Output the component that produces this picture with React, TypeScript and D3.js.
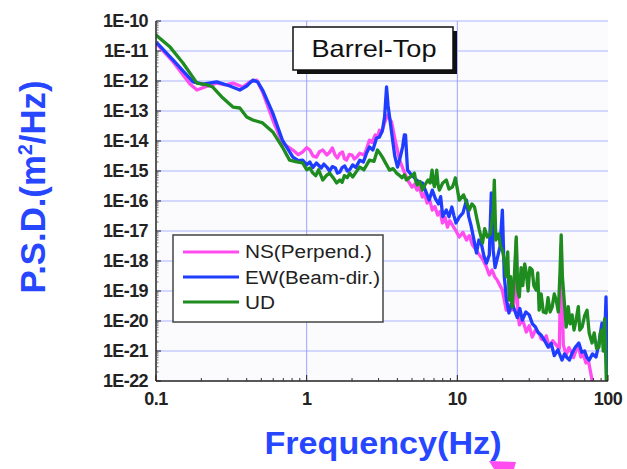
import React from "react";
import * as d3 from "d3";

// Frequency axis (Hz) and PSD axis (m^2/Hz) ticks
const xTickValues = [0.1, 1, 10, 100];
const xTickLabels = ["0.1", "1", "10", "100"];
const yTickValues = [1e-10, 1e-11, 1e-12, 1e-13, 1e-14, 1e-15, 1e-16, 1e-17, 1e-18, 1e-19, 1e-20, 1e-21, 1e-22];
const yTickLabels = ["1E-10", "1E-11", "1E-12", "1E-13", "1E-14", "1E-15", "1E-16", "1E-17", "1E-18", "1E-19", "1E-20", "1E-21", "1E-22"];

const seriesNames = ["NS(Perpend.)", "EW(Beam-dir.)", "UD"];
const seriesColors = ["#ff4cf0", "#1f3dff", "#1f8c1f"];

// NS (perpendicular) spectrum: [frequency Hz, PSD m^2/Hz]
const nsPoints: [number, number][] = [
  [0.1, 1.85e-11], [0.13, 4.3e-12], [0.168, 7.9e-13], [0.187, 5e-13], [0.211, 6.3e-13], [0.253, 8.5e-13],
  [0.29, 7.4e-13], [0.324, 8.5e-13], [0.377, 6.3e-13], [0.42, 9.3e-13], [0.466, 1.07e-12], [0.51, 4.3e-13],
  [0.596, 5e-14], [0.69, 8.5e-15], [0.81, 5e-15], [0.88, 3.5e-15], [0.94, 4.3e-15], [1.0, 6e-15],
  [1.05, 5e-15], [1.1, 3.2e-15], [1.16, 2.9e-15], [1.22, 4.5e-15], [1.28, 5e-15], [1.36, 3.4e-15],
  [1.42, 4.2e-15], [1.48, 5.9e-15], [1.54, 3.5e-15], [1.6, 2.7e-15], [1.66, 3.8e-15], [1.73, 4.3e-15],
  [1.78, 2.6e-15], [1.84, 2.3e-15], [1.92, 3.6e-15], [2.0, 3.4e-15], [2.07, 2.5e-15], [2.15, 2.9e-15],
  [2.25, 3.9e-15], [2.4, 3.4e-15], [2.5, 5.5e-15], [2.61, 1.07e-14], [2.72, 9e-15], [2.85, 1.6e-14],
  [2.95, 1.3e-14], [3.04, 2.3e-14], [3.15, 2e-14], [3.3, 4.3e-14], [3.46, 7.4e-14], [3.56, 5.5e-14],
  [3.66, 4.3e-14], [3.83, 1.35e-14], [4.0, 5e-15], [4.14, 2.3e-15], [4.35, 1.2e-15], [4.59, 6.3e-16],
  [4.8, 4e-16], [5.0, 2.9e-16], [5.2, 3.6e-16], [5.4, 2.3e-16], [5.6, 2.8e-16], [5.86, 1.35e-16],
  [6.05, 1.8e-16], [6.3, 8.5e-17], [6.55, 1.1e-16], [6.82, 5e-17], [7.1, 6.5e-17], [7.4, 3.4e-17],
  [7.7, 4.5e-17], [7.96, 1.85e-17], [8.3, 2.8e-17], [8.6, 1.35e-17], [8.9, 2.2e-17], [9.26, 1.6e-17],
  [9.7, 1.1e-17], [10.3, 6.3e-18], [10.9, 9e-18], [11.5, 5e-18], [12.0, 7e-18], [12.6, 3.4e-18],
  [13.2, 2.5e-18], [14.0, 1.6e-18], [14.8, 1.1e-18], [15.6, 6.3e-19], [16.3, 3.4e-19], [17.0, 5e-19],
  [17.7, 3e-19], [18.4, 2.3e-19], [19.1, 1.6e-19], [19.9, 1.07e-19], [20.5, 5e-20], [21.1, 2.3e-20],
  [22.0, 3.5e-20], [23.0, 2.3e-20], [23.8, 4e-20], [24.6, 5e-18], [25.2, 2e-20], [25.8, 7.4e-21],
  [27.0, 1.2e-20], [28.7, 4.3e-21], [30.0, 7e-21], [31.4, 2.9e-21], [33.0, 5e-21], [34.9, 4e-21],
  [36.0, 2.5e-21], [37.5, 2.3e-21], [39.0, 3.2e-21], [40.6, 1.35e-21], [43.0, 2.2e-21], [45.3, 1.6e-21],
  [47.5, 1.2e-21], [48.9, 3.4e-18], [50.5, 1.6e-21], [52.8, 7.4e-22], [55.0, 1.3e-21], [57.0, 9.3e-22],
  [59.0, 6e-22], [61.4, 1.07e-21], [64.0, 1.3e-21], [66.0, 6.3e-22], [68.5, 8e-22], [71.4, 4e-22],
  [74.0, 5e-22], [78.4, 1.07e-22], [85, 4e-23],
];

// EW (beam direction) spectrum
const ewPoints: [number, number][] = [
  [0.1, 2.0e-11], [0.13, 5e-12], [0.176, 9.3e-13], [0.205, 7.9e-13], [0.253, 9.3e-13], [0.309, 6.8e-13],
  [0.36, 5e-13], [0.4, 6.8e-13], [0.439, 1.07e-12], [0.473, 9.3e-13], [0.51, 5e-13], [0.596, 8.5e-14],
  [0.69, 1.07e-14], [0.81, 2.9e-15], [0.88, 2.2e-15], [0.94, 2.3e-15], [1.0, 1.6e-15], [1.05, 2e-15],
  [1.1, 1.3e-15], [1.16, 1.85e-15], [1.25, 1.26e-15], [1.3, 1.7e-15], [1.36, 1.35e-15], [1.42, 1.0e-15],
  [1.48, 1.4e-15], [1.55, 1.26e-15], [1.6, 8.5e-16], [1.66, 9.3e-16], [1.72, 1.3e-15], [1.79, 1.47e-15],
  [1.86, 1.0e-15], [1.93, 1.1e-15], [2.02, 1.6e-15], [2.12, 1.3e-15], [2.25, 2.3e-15], [2.38, 2.0e-15],
  [2.5, 4e-15], [2.61, 6.3e-15], [2.75, 5e-15], [2.91, 1.26e-14], [3.04, 1.35e-14], [3.18, 2.2e-14],
  [3.29, 6.3e-14], [3.39, 6.3e-13], [3.47, 1.5e-13], [3.55, 6.3e-14], [3.72, 1.07e-14], [3.85, 3e-15],
  [4.01, 1.35e-15], [4.15, 2.5e-15], [4.33, 6.3e-15], [4.45, 1.6e-14], [4.53, 1.6e-14], [4.67, 1.07e-15],
  [4.9, 8e-16], [5.19, 5.9e-16], [5.5, 4.5e-16], [5.86, 4e-16], [6.15, 2.2e-16], [6.5, 1.07e-16],
  [6.82, 2.3e-16], [7.15, 1.2e-16], [7.5, 8e-17], [7.75, 1.4e-16], [8.0, 3e-17], [8.45, 5e-17],
  [8.8, 3e-17], [9.2, 6.3e-17], [9.5, 3.2e-17], [9.8, 1.85e-17], [10.3, 2.9e-17], [10.9, 4e-17],
  [11.5, 1.07e-16], [11.9, 3e-17], [12.3, 1.6e-17], [12.8, 6e-18], [13.4, 1.85e-18], [13.9, 5e-18],
  [14.5, 3.4e-18], [15.0, 1.5e-18], [15.6, 8.5e-19], [16.3, 1.6e-18], [16.8, 1.85e-16], [17.3, 2.3e-18],
  [17.8, 6e-19], [18.4, 1.2e-18], [19.2, 3e-18], [19.9, 5e-17], [20.5, 3e-19], [21.2, 5e-20],
  [22.0, 1.85e-20], [23.0, 4e-20], [24.0, 2.3e-20], [25.0, 1.3e-20], [26.0, 2.6e-20], [27.0, 1.07e-20],
  [28.5, 2e-20], [30.0, 1.6e-20], [31.5, 8e-21], [33.0, 6.3e-21], [34.5, 4e-21], [36.0, 3.4e-21],
  [38.0, 2.2e-21], [40.0, 1.35e-21], [42.0, 1.8e-21], [44.0, 7e-22], [46.5, 1.1e-21], [49.5, 5e-22],
  [51.5, 8e-22], [53.0, 6.3e-22], [55.5, 5e-22], [57.8, 8.5e-22], [60.5, 1.3e-21], [64.0, 1.85e-21],
  [67.0, 9e-22], [70.0, 1.0e-21], [72.5, 6e-22], [75.0, 5e-22], [79.0, 8e-22], [83.3, 6.3e-22],
  [87.0, 1.8e-21], [91.2, 8.5e-21], [93.0, 2.5e-21], [95.0, 2e-21], [97.0, 6.3e-20], [98, 5e-21],
  [99, 1e-22],
];

// UD (vertical) spectrum
const udPoints: [number, number][] = [
  [0.1, 3.4e-11], [0.124, 1.35e-11], [0.151, 4e-12], [0.187, 8.5e-13], [0.218, 7.4e-13], [0.238, 6.3e-13],
  [0.278, 2.7e-13], [0.324, 1.35e-13], [0.36, 1.26e-13], [0.4, 6.3e-14], [0.439, 5e-14], [0.51, 4e-14],
  [0.596, 2e-14], [0.69, 6.3e-15], [0.77, 2.3e-15], [0.86, 2e-15], [0.94, 1.85e-15], [1.0, 1.1e-15],
  [1.05, 1.26e-15], [1.1, 8.5e-16], [1.15, 7e-16], [1.2, 1.1e-15], [1.28, 5e-16], [1.35, 7e-16],
  [1.42, 8.5e-16], [1.5, 6e-16], [1.58, 4e-16], [1.66, 5e-16], [1.72, 4.2e-16], [1.78, 7e-16],
  [1.86, 6e-16], [1.93, 8.5e-16], [2.02, 6.3e-16], [2.12, 9e-16], [2.25, 1.35e-15], [2.4, 1.1e-15],
  [2.61, 2.3e-15], [2.8, 2.1e-15], [2.95, 5e-15], [3.05, 4e-15], [3.18, 2.9e-15], [3.35, 1.8e-15],
  [3.55, 1.07e-15], [3.75, 1.2e-15], [3.95, 8.5e-16], [4.15, 7e-16], [4.3, 6e-16], [4.45, 7.5e-16],
  [4.59, 5e-16], [4.8, 6e-16], [5.0, 7e-16], [5.19, 8.5e-16], [5.3, 4.5e-16], [5.43, 3.4e-16],
  [5.65, 4.5e-16], [5.86, 2.3e-16], [6.1, 3.5e-16], [6.4, 5e-16], [6.6, 4e-16], [6.8, 1.07e-15],
  [6.95, 4e-16], [7.04, 3e-16], [7.2, 6e-16], [7.3, 1.07e-15], [7.45, 3.5e-16], [7.6, 2.3e-16],
  [8.0, 4e-16], [8.45, 5e-16], [8.8, 2.5e-16], [9.26, 2.9e-16], [9.5, 4e-16], [9.7, 5.9e-16],
  [10.0, 2.5e-16], [10.3, 1.07e-16], [11.0, 1.6e-16], [12.0, 5e-17], [12.5, 8e-17], [13.0, 6.3e-17],
  [13.5, 2.5e-17], [14.0, 1.07e-17], [14.7, 4e-18], [15.2, 1.2e-17], [15.8, 6.3e-18], [16.6, 8e-18],
  [17.3, 5e-17], [17.6, 5e-16], [18.0, 5e-18], [18.8, 8e-18], [19.4, 3e-18], [19.9, 2.3e-18],
  [20.5, 1.07e-18], [21.1, 3e-19], [21.6, 2e-18], [22.1, 5e-20], [22.6, 3e-19], [23.1, 2.9e-20],
  [23.8, 2e-19], [24.6, 6.3e-18], [25.2, 1e-19], [25.8, 6.3e-20], [26.5, 6e-19], [27.2, 1.5e-19],
  [28.0, 8e-19], [28.7, 4e-19], [29.5, 1e-19], [30.3, 6e-19], [31.4, 5e-19], [32.2, 1.5e-19],
  [33.4, 1.07e-19], [34.2, 4e-19], [34.9, 2.3e-20], [36.0, 8e-20], [37.2, 2e-20], [38.8, 1.85e-20],
  [40.0, 6e-20], [41.3, 2e-20], [42.6, 2.9e-20], [44.0, 8e-20], [45.3, 5e-20], [46.8, 2e-20],
  [48.0, 4e-19], [48.9, 7.4e-18], [49.8, 3e-19], [51.2, 5e-20], [52.8, 6.3e-21], [54.5, 3e-20],
  [56.0, 8e-21], [57.8, 1.6e-20], [59.5, 5e-21], [61.4, 1.07e-20], [63.5, 3e-20], [65.0, 5e-21],
  [67.3, 6.3e-21], [70.0, 1.5e-20], [72.6, 2.3e-20], [75.0, 4e-21], [78.4, 1.85e-21], [81.0, 4e-21],
  [84.0, 1.2e-21], [87.1, 1.35e-21], [89.0, 4e-21], [91.2, 5e-21], [93, 1e-21], [95, 1.2e-20],
  [96, 2e-21], [97.5, 1e-22], [100, 5e-23],
];

const seriesPoints = [nsPoints, ewPoints, udPoints];

const W = 627;
const H = 469;
const left = 156;
const right = 608;
const top = 21;
const bottom = 381;

export default function App() {
  const x = d3.scaleLog().domain([0.1, 100]).range([left, right]);
  const y = d3.scaleLog().domain([1e-22, 1e-10]).range([bottom, top]);

  const line = d3
    .line<[number, number]>()
    .x((d) => x(d[0]))
    .y((d) => y(d[1]));

  const xMinor: number[] = [];
  const yMinor: number[] = [];
  for (let p = -1; p < 2; p++) for (let k = 2; k <= 9; k++) xMinor.push(k * Math.pow(10, p));
  for (let p = -22; p < -10; p++) for (let k = 2; k <= 9; k++) yMinor.push(k * Math.pow(10, p));

  const font = "Arial, 'Liberation Sans', Helvetica, sans-serif";

  return (
    <svg
      width={W}
      height={H}
      style={{ position: "absolute", left: 0, top: 0, background: "#ffffff" }}
      fontFamily={font}
    >
      <defs>
        <clipPath id="plotClip">
          <rect x={left} y={top - 2} width={right - left} height={bottom - top + 2} />
        </clipPath>
      </defs>

      {/* plot background */}
      <rect x={left} y={top} width={right - left} height={bottom - top} fill="#fbfbfd" />

      {/* grid */}
      {yTickValues.slice(0, -1).map((v, i) => (
        <line key={"gy" + i} x1={left} x2={right} y1={y(v)} y2={y(v)} stroke="#aab3ff" strokeWidth={1} />
      ))}
      {[1, 10].map((v, i) => (
        <line key={"gx" + i} x1={x(v)} x2={x(v)} y1={top} y2={bottom} stroke="#98a4ff" strokeWidth={1} />
      ))}

      {/* spectra */}
      <g clipPath="url(#plotClip)">
        {seriesPoints.map((pts, s) => (
          <path
            key={"s" + s}
            d={line(pts) || ""}
            fill="none"
            stroke={seriesColors[s]}
            strokeWidth={3.3}
            strokeLinejoin="round"
          />
        ))}
      </g>

      {/* axes */}
      <line x1={left} x2={left} y1={top} y2={bottom} stroke="#222" strokeWidth={1.5} />
      <line x1={left} x2={right} y1={bottom} y2={bottom} stroke="#222" strokeWidth={1.5} />
      {yTickValues.map((v, i) => (
        <line key={"ty" + i} x1={left} x2={left + 5} y1={y(v)} y2={y(v)} stroke="#222" strokeWidth={1} />
      ))}
      {yMinor.map((v, i) => (
        <line key={"tym" + i} x1={left} x2={left + 2.5} y1={y(v)} y2={y(v)} stroke="#555" strokeWidth={0.8} />
      ))}
      {xTickValues.map((v, i) => (
        <line key={"tx" + i} x1={x(v)} x2={x(v)} y1={bottom} y2={bottom - 6} stroke="#222" strokeWidth={1} />
      ))}
      {xMinor.map((v, i) => (
        <line key={"txm" + i} x1={x(v)} x2={x(v)} y1={bottom} y2={bottom - 3} stroke="#333" strokeWidth={1} />
      ))}

      {/* tick labels */}
      {yTickValues.map((v, i) => (
        <text
          key={"ly" + i}
          x={148}
          y={y(v)}
          dy="0.36em"
          textAnchor="end"
          fontSize={18}
          fontWeight="bold"
          fill="#222"
          letterSpacing={-0.6}
        >
          {yTickLabels[i]}
        </text>
      ))}
      {xTickValues.map((v, i) => (
        <text
          key={"lx" + i}
          x={x(v)}
          y={405}
          textAnchor="middle"
          fontSize={18}
          fontWeight="bold"
          fill="#222"
          letterSpacing={-0.5}
        >
          {xTickLabels[i]}
        </text>
      ))}

      {/* axis titles */}
      <text
        x={383}
        y={454}
        textAnchor="middle"
        fontSize={31}
        fontWeight="bold"
        fill="#2646ff"
        textLength={237}
        lengthAdjust="spacingAndGlyphs"
      >
        Frequency(Hz)
      </text>
      <text
        transform="translate(45,187) rotate(-90)"
        textAnchor="middle"
        fontSize={35}
        fontWeight="bold"
        fill="#2646ff"
        textLength={213}
        lengthAdjust="spacingAndGlyphs"
      >
        P.S.D.(m<tspan fontSize={20} dy={-13}>2</tspan>
        <tspan dy={13}>/Hz)</tspan>
      </text>
      <polygon points="489,461 516,462 514,469 494,469" fill="#ff4cf0" />

      {/* title box */}
      <rect x={297} y={31} width={160} height={43} fill="#111" />
      <rect x={293} y={27} width={160} height={43} fill="#fff" stroke="#111" strokeWidth={1.5} />
      <text x={374} y={57} textAnchor="middle" fontSize={24} fill="#111" textLength={125} lengthAdjust="spacingAndGlyphs">
        Barrel-Top
      </text>

      {/* legend */}
      <rect x={173} y={235} width={210} height={87} fill="#fff" stroke="#444" strokeWidth={1.5} />
      {seriesNames.map((n, i) => (
        <g key={"lg" + i}>
          <line x1={183} x2={239} y1={252 + i * 25} y2={252 + i * 25} stroke={seriesColors[i]} strokeWidth={3} />
          <text x={245} y={258 + i * 25.5} fontSize={18} fill="#222" textLength={[127, 135, 30][i]} lengthAdjust="spacingAndGlyphs">
            {n}
          </text>
        </g>
      ))}
    </svg>
  );
}
